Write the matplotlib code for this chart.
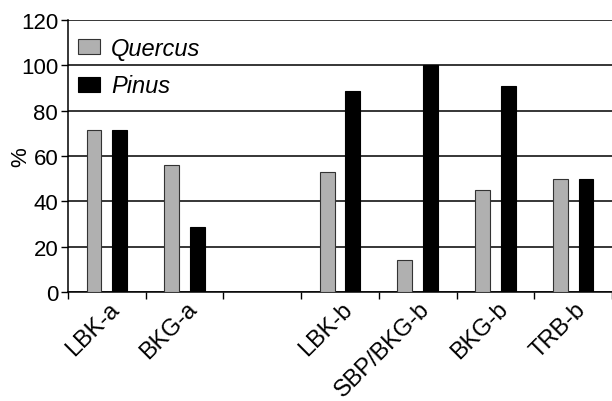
import numpy as np
import matplotlib.pyplot as plt
from matplotlib.transforms import ScaledTranslation

plt.rcParams['font.family'] = ['Liberation Sans', 'DejaVu Sans']

# data
categories = ['LBK-a', 'BKG-a', '', 'LBK-b', 'SBP/BKG-b', 'BKG-b', 'TRB-b']
quercus = [71.3, 56.2, np.nan, 52.8, 14.1, 45.1, 49.8]
pinus = [71.3, 28.5, np.nan, 88.8, 100.0, 90.8, 50.0]

x = np.arange(len(categories))
w = 0.19
off = 0.165

fig = plt.figure(figsize=(6.12, 4.02), dpi=100)
ax = fig.add_axes([0.111, 0.271, 0.889, 0.677])

ax.bar(x - off, quercus, w, color='#b0b0b0', edgecolor='#333333', linewidth=0.8,
       label='Quercus', zorder=3)
ax.bar(x + off, pinus, w, color='black', edgecolor='black', linewidth=0.8,
       label='Pinus', zorder=3)

ax.set_xlim(-0.5, len(categories) - 0.5)
ax.set_ylim(0, 120)
ax.set_yticks(range(0, 121, 20))
ax.yaxis.grid(True, color='black', linewidth=1.1)
ax.set_axisbelow(True)

# ticks between categories, labels at centers
ax.set_xticks(np.arange(-0.5, len(categories) + 0.5, 1))
ax.set_xticklabels([])
ax.set_xticks(x, minor=True)
ax.set_xticklabels(categories, minor=True, rotation=45, ha='right',
                   rotation_mode='anchor', fontsize=17)
ax.tick_params(axis='x', which='minor', length=0, pad=4)
ax.tick_params(axis='x', which='major', length=5, width=1, direction='out')
ax.tick_params(axis='y', length=5, width=1, labelsize=16, pad=2)

# nudge labels slightly right of the category centre
shift = ScaledTranslation(0.01, 0, fig.dpi_scale_trans)
for lab in ax.get_xticklabels(minor=True):
    lab.set_transform(lab.get_transform() + shift)

for s in ['top', 'right']:
    ax.spines[s].set_visible(False)
for s in ['left', 'bottom']:
    ax.spines[s].set_linewidth(1.1)

ax.set_ylabel('%', fontsize=16)
ax.yaxis.set_label_coords(-0.068, 0.5)

leg = ax.legend(loc='upper left', frameon=False,
                prop={'style': 'italic', 'size': 17},
                handlelength=0.95, handleheight=0.6, handletextpad=0.45,
                borderaxespad=0.2, labelspacing=0.62,
                bbox_to_anchor=(-0.008, 0.99))
for h in leg.legend_handles:
    h.set_linewidth(0.8)

fig.savefig('out.png', dpi=100)
